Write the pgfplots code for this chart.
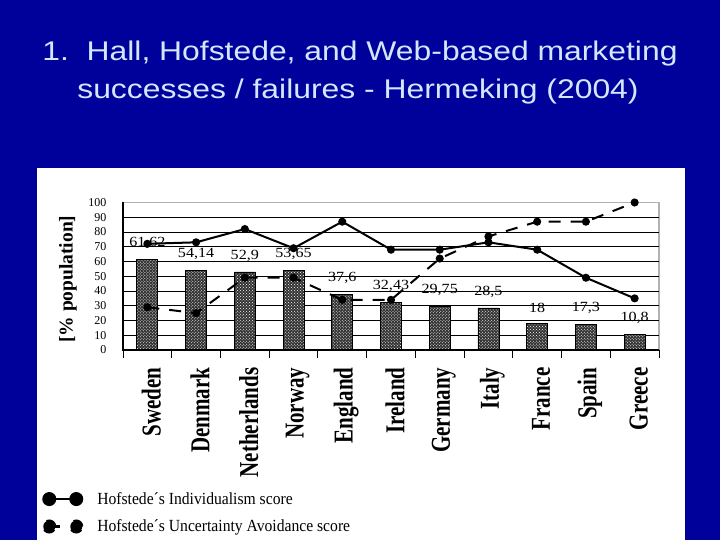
\documentclass[border=0pt]{standalone}
\usepackage{fontspec}
\setmainfont{Liberation Serif}
\newfontfamily\arialfont{Liberation Sans}
\usepackage{pgfplots}
\usepackage{pgfplotstable}
\pgfplotsset{compat=1.18}
\usetikzlibrary{patterns}

\definecolor{bgblue}{RGB}{0,0,155}
\definecolor{titlecol}{RGB}{210,232,255}

\newcommand{\xl}[1]{\scalebox{1}[1.3]{#1}}

\pgfplotstableread{
x  bar    lbl    ind  unc
0  61.62  61,62  72   29
1  54.14  54,14  73   25
2  52.9   52,9   82   49
3  53.65  53,65  69   49
4  37.6   37,6   87   34
5  32.43  32,43  68   34
6  29.75  29,75  68   62
7  28.5   28,5   73   77
8  18     18     68   87
9  17.3   17,3   49   87
10 10.8   10,8   35   100
}\datatable

\begin{document}
\begin{tikzpicture}
\useasboundingbox (0,0) rectangle (720bp,540bp);
\fill[bgblue] (0,0) rectangle (720bp,540bp);
\fill[white] (37bp,0) rectangle (685bp,372bp);
\node[anchor=base, text=titlecol, font=\arialfont\fontsize{27bp}{32bp}\selectfont, inner sep=0pt]
  at (360bp,479bp) {\scalebox{1.18}[1]{1.\ \ Hall, Hofstede, and Web-based marketing}};
\node[anchor=base, text=titlecol, font=\arialfont\fontsize{27bp}{32bp}\selectfont, inner sep=0pt]
  at (358bp,441bp) {\scalebox{1.18}[1]{successes / failures - Hermeking (2004)}};

\begin{axis}[
    at={(123bp,190bp)}, anchor=south west,
    scale only axis, width=536bp, height=147.5bp,
    xmin=-0.5, xmax=10.5, ymin=0, ymax=100,
    clip=false,
    axis line style={gray!60, line width=1.2bp},
    /pgf/number format/assume math mode=true,
    xtick pos=left,
    xtick={0,...,10},
    xticklabels={\xl{Sweden},\xl{Denmark},\xl{Netherlands},\xl{Norway},\xl{England},
                 \xl{Ireland},\xl{Germany},\xl{Italy},\xl{France},\xl{Spain},\xl{Greece}},
    xtick style={draw=none},
    xticklabel style={rotate=90, anchor=east, xshift=-14bp, yshift=-4bp,
                      font=\bfseries\fontsize{21bp}{24bp}\selectfont},
    extra x ticks={-0.5,0.5,...,10.5},
    extra x tick labels={},
    extra x tick style={xtick style={draw=black, line width=1bp},
                        tick align=outside, major tick length=8bp},
    ytick={0,10,...,100},
    ytick style={draw=none},
    yticklabel style={font=\fontsize{12bp}{14bp}\selectfont, xshift=-13bp},
    extra y ticks={10,20,...,90},
    extra y tick labels={},
    extra y tick style={grid=major, major grid style={black, line width=0.8bp}},
    ylabel={[\% population]},
    every axis y label/.style={at={(axis description cs:-0.1026,0.48)}, rotate=90,
                               anchor=center, font=\bfseries\fontsize{19.5bp}{22bp}\selectfont},
    legend style={at={(axis description cs:-0.151,-0.95)}, anchor=north west,
                  draw=none, fill=none, inner sep=0pt, row sep=10bp, column sep=12bp,
                  font=\fontsize{17bp}{19bp}\selectfont},
    legend cell align=left,
]
\addplot[ybar, bar width=21bp, draw=black, line width=0.8bp, fill=black!80,
         postaction={pattern=crosshatch dots, pattern color=white},
         forget plot,
         point meta=explicit symbolic,
         nodes near coords={\scalebox{1.15}[1]{\pgfplotspointmeta}},
         every node near coord/.append style={font=\fontsize{14bp}{16bp}\selectfont,
                                              text=black, yshift=7bp}]
  table[x=x, y=bar, meta=lbl] {\datatable};
\draw[black, line width=1.2bp] (rel axis cs:0,1) -- (rel axis cs:0,0) -- (rel axis cs:1,0);
\addplot[black, line width=2bp, mark=*, mark size=3bp,
         legend image code/.code={
           \draw[black, line width=2.5bp] (0bp,0bp) -- (27bp,0bp);
           \fill[black] (0bp,0bp) circle (6bp);
           \fill[black] (27bp,0bp) circle (6bp);}]
  table[x=x, y=ind] {\datatable};
\addlegendentry{\scalebox{0.92}[1]{Hofstede´s Individualism score}}
\addplot[black, line width=2bp, dash pattern=on 12bp off 10bp, mark=*, mark size=3bp,
         mark options={solid},
         legend image code/.code={
           \draw[black, line width=2.5bp] (0bp,0bp) -- (11bp,0bp);
           \fill[black] (0bp,0bp) circle (6bp);
           \fill[black] (27bp,0bp) circle (6bp);}]
  table[x=x, y=unc] {\datatable};
\addlegendentry{\scalebox{0.92}[1]{Hofstede´s Uncertainty Avoidance score}}
\end{axis}
\end{tikzpicture}
\end{document}
